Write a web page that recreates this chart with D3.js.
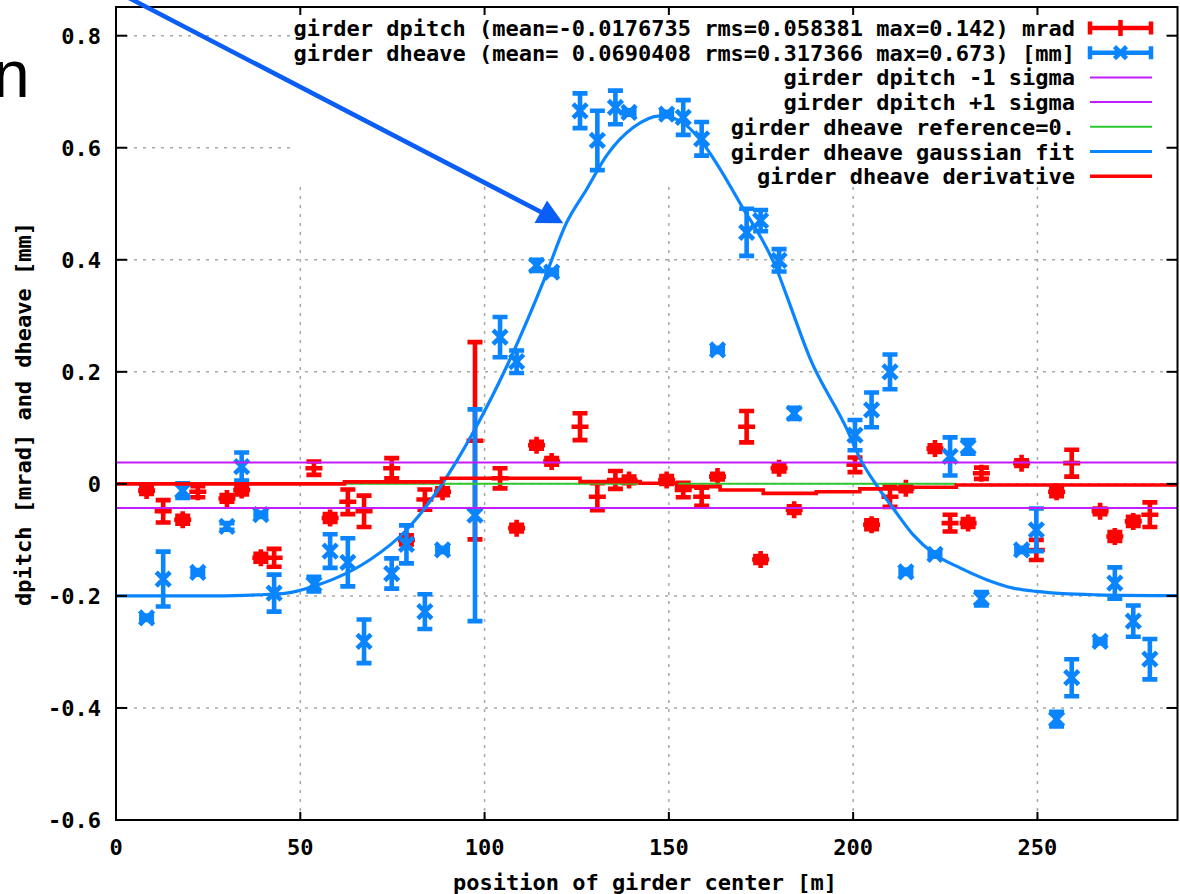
<!DOCTYPE html>
<html><head><meta charset="utf-8">
<script src="https://cdn.jsdelivr.net/npm/d3@7"></script>
<style>
body{margin:0;background:#fff;}
svg{display:block;}
.g text{font-family:"DejaVu Sans Mono",monospace;font-weight:bold;font-size:22px;fill:#000;}
</style>
</head><body>
<svg id="c" width="1180" height="894"></svg>
<script>
// ---------------- data ----------------
const positions = [8.3,12.8,18.1,22.2,30.1,34.1,39.3,42.9,53.7,58.1,62.9,67.3,74.8,78.8,83.8,88.6,97.4,104.2,108.7,114.1,118.2,125.9,130.6,135.5,139.2,149.4,153.9,158.9,163.2,171.1,174.9,179.9,184.0,200.5,205.0,210.0,214.3,222.2,226.3,231.2,234.8,245.7,249.7,255.2,259.3,267.0,271.0,276.0,280.5];
const dpitch = [-0.012,-0.049,-0.064,-0.014,-0.026,-0.011,-0.132,-0.132,0.028,-0.061,-0.032,-0.049,0.028,-0.100,-0.028,-0.014,0.077,0.010,-0.079,0.069,0.040,0.102,-0.023,0.007,0.007,0.007,-0.011,-0.023,0.013,0.102,-0.135,0.028,-0.046,0.034,-0.073,-0.023,-0.008,0.063,-0.070,-0.070,0.019,0.037,-0.118,-0.014,0.037,-0.049,-0.094,-0.067,-0.055];
const dpitchErr = [0.006,0.020,0.007,0.010,0.006,0.008,0.007,0.016,0.012,0.007,0.022,0.028,0.018,0.008,0.018,0.006,0.176,0.018,0.006,0.006,0.006,0.024,0.024,0.016,0.006,0.007,0.013,0.016,0.005,0.028,0.006,0.006,0.006,0.013,0.008,0.018,0.005,0.006,0.015,0.007,0.010,0.005,0.018,0.008,0.024,0.005,0.008,0.008,0.022];
const dheave = [-0.239,-0.170,-0.012,-0.158,-0.076,0.031,-0.055,-0.195,-0.179,-0.120,-0.140,-0.281,-0.160,-0.108,-0.228,-0.118,-0.056,0.262,0.218,0.390,0.378,0.666,0.613,0.672,0.663,0.660,0.654,0.616,0.239,0.449,0.470,0.399,0.126,0.087,0.132,0.200,-0.157,-0.126,0.049,0.066,-0.205,-0.118,-0.082,-0.420,-0.346,-0.281,-0.177,-0.245,-0.313];
const dheaveErr = [0.004,0.049,0.013,0.004,0.006,0.025,0.004,0.033,0.013,0.030,0.043,0.039,0.027,0.034,0.031,0.004,0.189,0.036,0.020,0.010,0.004,0.031,0.053,0.030,0.004,0.004,0.031,0.030,0.004,0.042,0.019,0.020,0.010,0.027,0.031,0.031,0.004,0.004,0.034,0.012,0.012,0.004,0.038,0.013,0.033,0.004,0.028,0.028,0.036];
const sigmaLevels = [-0.043, 0.038];          // dpitch -1 sigma, +1 sigma
const referenceLevel = 0;
const referenceSpan = [62, 228];
const fitX = [0,27,38.6,46.3,53.5,59,69,78.4,88.3,97,108.2,115.9,122.3,127.7,133.1,140.3,147.6,153,158.4,163.9,170.2,174.7,179.2,181.9,188.3,198.2,201.8,206.3,210.8,216.3,222.2,229,236.2,243.4,249.7,256.9,266,288];
const fitY = [-0.200,-0.200,-0.198,-0.195,-0.183,-0.170,-0.135,-0.085,-0.002,0.093,0.241,0.360,0.467,0.526,0.586,0.636,0.657,0.648,0.615,0.562,0.491,0.443,0.384,0.337,0.224,0.099,0.046,-0.002,-0.043,-0.091,-0.126,-0.150,-0.171,-0.186,-0.192,-0.196,-0.198,-0.1995];
const derivX = [0,62,88.3,125.9,142.2,152.1,163.9,175.6,190,201.8,214.5,228,288];
const derivY = [0,0.0035,0.010,0.004,0.001,-0.005,-0.011,-0.017,-0.014,-0.009,-0.006,-0.002,-0.002];
const xTicks = [0,50,100,150,200,250];
const xTickLabels = ["0","50","100","150","200","250"];
const yTicks = [-0.6,-0.4,-0.2,0,0.2,0.4,0.6,0.8];
const yTickLabels = ["-0.6","-0.4","-0.2","0","0.2","0.4","0.6","0.8"];
const legendLabels = [
  "girder dpitch (mean=-0.0176735 rms=0.058381 max=0.142) mrad",
  "girder dheave (mean= 0.0690408 rms=0.317366 max=0.673) [mm]",
  "girder dpitch -1 sigma",
  "girder dpitch +1 sigma",
  "girder dheave reference=0.",
  "girder dheave gaussian fit",
  "girder dheave derivative"
];

// ---------------- styles ----------------
const RED = "#ff0000", BLUE = "#0a84ff", PURPLE = "#c41cff", GREEN = "#2ec82e";

const svg = d3.select("#c").append("g").attr("class","g");
const x = d3.scaleLinear().domain([0, 288]).range([116, 1177.5]);
const y = d3.scaleLinear().domain([-0.6, 0.8]).range([820, 35.7]);
const frameTop = 7, frameBottom = y(-0.6), frameLeft = x(0), frameRight = x(288);

// grid
const grid = svg.append("g").attr("stroke","#a8a8a8").attr("stroke-width",1.5).attr("stroke-dasharray","3,6");
xTicks.filter(t => t > 0).forEach(t => grid.append("line").attr("x1",x(t)).attr("x2",x(t)).attr("y1",frameBottom).attr("y2",frameTop));
yTicks.filter(t => t > -0.6).forEach(t => grid.append("line").attr("x1",frameLeft).attr("x2",frameRight).attr("y1",y(t)).attr("y2",y(t)));

// opaque key area
svg.append("rect").attr("x",290).attr("y",frameTop+1).attr("width",873).attr("height",179).attr("fill","#fff");

// error bar series
function errSeries(vals, errs, color, marker) {
  const g = svg.append("g").attr("stroke", color).attr("stroke-width", 4.6).attr("fill","none");
  positions.forEach((p,i) => {
    const cx = x(p), cy = y(vals[i]), lo = y(vals[i]-errs[i]), hi = y(vals[i]+errs[i]);
    let d = `M${cx},${lo}V${hi}M${cx-7.5},${lo}H${cx+7.5}M${cx-7.5},${hi}H${cx+7.5}`;
    if (marker === "plus") d += `M${cx-8.5},${cy}H${cx+8.5}M${cx},${cy-8.5}V${cy+8.5}`;
    else d += `M${cx-7},${cy-7}L${cx+7},${cy+7}M${cx-7},${cy+7}L${cx+7},${cy-7}`;
    g.append("path").attr("d", d);
  });
}
errSeries(dpitch, dpitchErr, RED, "plus");
errSeries(dheave, dheaveErr, BLUE, "cross");

// sigma lines
sigmaLevels.forEach(v => svg.append("line").attr("x1",frameLeft).attr("x2",frameRight).attr("y1",y(v)).attr("y2",y(v)).attr("stroke",PURPLE).attr("stroke-width",2));
// reference
svg.append("line").attr("x1",x(referenceSpan[0])).attr("x2",x(referenceSpan[1])).attr("y1",y(referenceLevel)).attr("y2",y(referenceLevel)).attr("stroke",GREEN).attr("stroke-width",2);
// fit
svg.append("path").datum(fitX.map((v,i)=>[v,fitY[i]]))
  .attr("d", d3.line().curve(d3.curveMonotoneX).x(d=>x(d[0])).y(d=>y(d[1])))
  .attr("fill","none").attr("stroke",BLUE).attr("stroke-width",3.2);
// derivative
svg.append("path").datum(derivX.map((v,i)=>[v,derivY[i]]))
  .attr("d", d3.line().curve(d3.curveStepAfter).x(d=>x(d[0])).y(d=>y(d[1])))
  .attr("fill","none").attr("stroke",RED).attr("stroke-width",3.6);

// border and ticks
svg.append("rect").attr("x",frameLeft).attr("y",frameTop).attr("width",frameRight-frameLeft).attr("height",frameBottom-frameTop)
  .attr("fill","none").attr("stroke","#000").attr("stroke-width",2);
const ticks = svg.append("g").attr("stroke","#000").attr("stroke-width",2);
yTicks.forEach(t => {
  ticks.append("line").attr("x1",frameLeft).attr("x2",frameLeft+11).attr("y1",y(t)).attr("y2",y(t));
  ticks.append("line").attr("x1",frameRight).attr("x2",frameRight-11).attr("y1",y(t)).attr("y2",y(t));
});
xTicks.forEach(t => {
  ticks.append("line").attr("x1",x(t)).attr("x2",x(t)).attr("y1",frameBottom).attr("y2",frameBottom-8);
  ticks.append("line").attr("x1",x(t)).attr("x2",x(t)).attr("y1",frameTop).attr("y2",frameTop+8);
});

// tick labels
yTicks.forEach((t,i) => svg.append("text").attr("x",101).attr("y",y(t)+8).attr("text-anchor","end").text(yTickLabels[i]));
xTicks.forEach((t,i) => svg.append("text").attr("x",x(t)).attr("y",855).attr("text-anchor","middle").text(xTickLabels[i]));

// axis labels
svg.append("text").attr("x",645).attr("y",890).attr("text-anchor","middle").text("position of girder center [m]");
svg.append("text").attr("transform","translate(31,414) rotate(-90)").attr("text-anchor","middle").text("dpitch [mrad] and dheave [mm]");

// legend
const rowY = i => 28 + i*24.7;
legendLabels.forEach((s,i) => svg.append("text").attr("x",1075).attr("y",rowY(i)+8).attr("text-anchor","end").attr("xml:space","preserve").text(s));
const lg = svg.append("g").attr("fill","none");
const sx0 = 1088, sx1 = 1153, smid = 1120.5;
lg.append("path").attr("stroke",RED).attr("stroke-width",4.5)
  .attr("d",`M${sx0},${rowY(0)}H${sx1}M${sx0+2},${rowY(0)-6.5}V${rowY(0)+6.5}M${sx1-2},${rowY(0)-6.5}V${rowY(0)+6.5}M${smid},${rowY(0)-8}V${rowY(0)+8}`);
lg.append("path").attr("stroke",BLUE).attr("stroke-width",4.5)
  .attr("d",`M${sx0},${rowY(1)}H${sx1}M${sx0+2},${rowY(1)-6.5}V${rowY(1)+6.5}M${sx1-2},${rowY(1)-6.5}V${rowY(1)+6.5}M${smid-6},${rowY(1)-6}L${smid+6},${rowY(1)+6}M${smid-6},${rowY(1)+6}L${smid+6},${rowY(1)-6}`);
[[PURPLE,2],[PURPLE,2],[GREEN,2],[BLUE,3.2],[RED,3.6]].forEach((st,k) => {
  const yy = rowY(k+2);
  lg.append("line").attr("x1",1090).attr("x2",1152).attr("y1",yy).attr("y2",yy).attr("stroke",st[0]).attr("stroke-width",st[1]);
});

// annotation from the surrounding slide
svg.append("line").attr("x1",100).attr("y1",-17.1).attr("x2",541).attr("y2",212).attr("stroke","#0a5ef5").attr("stroke-width",4.5);
svg.append("polygon").attr("points","563.3,223.3 534.5,223 547,200.5").attr("fill","#0a5ef5");
svg.append("text").attr("x",-7).attr("y",97).attr("style","font-family:'Liberation Sans',Arial,sans-serif;font-size:66px;font-weight:normal;fill:#000").text("n");
</script>
</body></html>
